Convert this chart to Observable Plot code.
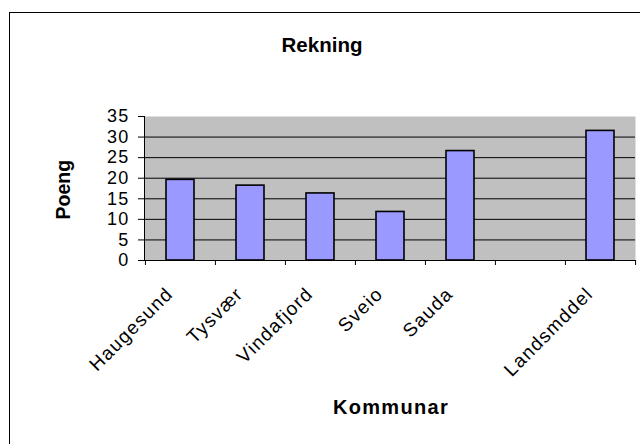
<!DOCTYPE html>
<html><head><meta charset="utf-8">
<script src="https://cdn.jsdelivr.net/npm/d3@7"></script>
<script src="https://cdn.jsdelivr.net/npm/@observablehq/plot@0.6"></script>
<style>
body{margin:0;background:#fff;}
#wrap{position:relative;width:640px;height:444px;overflow:hidden;}
#wrap svg{position:absolute;left:0;top:0;}
#border{position:absolute;left:9px;top:12px;width:700px;height:500px;border-left:1px solid #000;border-top:1px solid #000;pointer-events:none;}
</style></head><body><div id="wrap"></div>
<script>
const categories = ["Haugesund","Tysvær","Vindafjord","Sveio","Sauda"," ","Landsmddel"];
const kommunar = ["Haugesund","Tysvær","Vindafjord","Sveio","Sauda","Landsmddel"];
const poeng = [19.6, 18.2, 16.3, 11.8, 26.6, 31.5];
const yTicks = [0,5,10,15,20,25,30,35];
const gridLines = [5,10,15,20,25,30];
const title = "Rekning", xTitle = "Kommunar", yTitle = "Poeng";

const data = kommunar.map((k,i)=>({k, v: poeng[i]}));
const W = 640, H = 444, mL = 144, mR = 5, mT = 116, mB = 184;
const step = (W - mL - mR) / categories.length;
const font = "'Liberation Sans', Arial, sans-serif";

const chart = Plot.plot({
  width: W, height: H,
  marginLeft: mL, marginRight: mR, marginTop: mT, marginBottom: mB,
  style: {fontFamily: font, background: "transparent", color: "#000"},
  x: {domain: categories, paddingInner: 0.6, paddingOuter: 0.3, axis: null},
  y: {domain: [0, 35], axis: null},
  marks: [
    Plot.frame({fill: "#c0c0c0", stroke: null}),
    Plot.ruleY(gridLines, {stroke: "#000", strokeWidth: 1}),
    Plot.barY(data, {x: "k", y: "v", fill: "#9999ff", stroke: "#000", strokeWidth: 1.6}),
    Plot.ruleY([0], {stroke: "#000", strokeWidth: 1}),
    Plot.frame({anchor: "left", stroke: "#000", strokeWidth: 1}),
    Plot.axisY({ticks: yTicks, label: null, tickSize: 6, text: null}),
    Plot.text(yTicks, {y: d => d, text: d => String(d), frameAnchor: "left", textAnchor: "end", dx: -15, fontSize: 18}),
    Plot.axisX({ticks: categories, label: null, tickSize: 5, text: null, dx: -step/2}),
    Plot.axisX({ticks: [categories[categories.length-1]], label: null, tickSize: 5, text: null, dx: step/2}),
    Plot.text(kommunar, {x: d => d, text: d => d, frameAnchor: "bottom", rotate: -45, textAnchor: "end", lineAnchor: "top", dx: -16, dy: 25, fontSize: 19}),
    Plot.text([title], {frameAnchor: "top", text: d => d, dx: -68, dy: -71, lineAnchor: "middle", fontSize: 20.5, fontWeight: "bold"}),
    Plot.text([yTitle], {frameAnchor: "left", text: d => d, dx: -81, dy: 31, rotate: -90, lineAnchor: "middle", fontSize: 19.5, fontWeight: "bold"}),
    Plot.text([xTitle], {frameAnchor: "bottom", text: d => d, dx: 1, dy: 147, lineAnchor: "middle", fontSize: 20, fontWeight: "bold"})
  ]
});
const wrap = document.getElementById("wrap");
wrap.appendChild(chart);
const spaced = new Set([...kommunar, ...yTicks.map(String), xTitle]);
chart.querySelectorAll("text").forEach(t => {
  if (spaced.has(t.textContent)) t.style.letterSpacing = "1.3px";
});
const b = document.createElement("div"); b.id = "border"; wrap.appendChild(b);
</script></body></html>
